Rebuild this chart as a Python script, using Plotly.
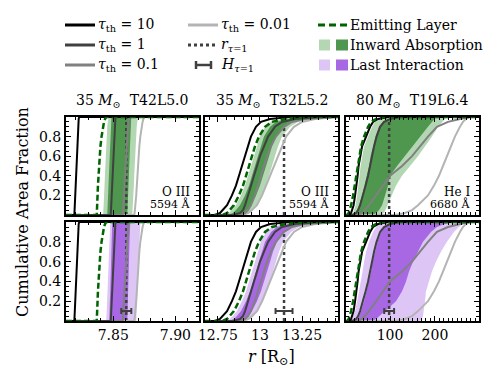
import plotly.graph_objects as go
from plotly.subplots import make_subplots

# cumulative area fraction levels shared by every curve
FRAC = [0.0, 0.02, 0.05, 0.1, 0.2, 0.3, 0.4, 0.5, 0.6, 0.7, 0.8, 0.9, 0.95, 0.98, 1.0]

TITLES = ["35 <i>M</i><sub>⊙</sub>  T42L5.0", "35 <i>M</i><sub>⊙</sub>  T32L5.2", "80 <i>M</i><sub>⊙</sub>  T19L6.4"]
LINES = [("O III", "5594 Å"), ("O III", "5594 Å"), ("He I", "6680 Å")]

# --- 35 Msun T42L5.0 : O III 5594
t42_tau10 = [7.8186, 7.8188, 7.8189, 7.8192, 7.8196, 7.8199, 7.8202, 7.8204, 7.8208, 7.8210, 7.8212, 7.8215, 7.8218, 7.8222, 7.8226]
t42_tau1 = [7.8480, 7.8481, 7.8482, 7.8484, 7.8487, 7.8490, 7.8493, 7.8496, 7.8499, 7.8502, 7.8506, 7.8511, 7.8514, 7.8517, 7.8520]
t42_tau01 = [7.8577, 7.8578, 7.8580, 7.8582, 7.8586, 7.8590, 7.8594, 7.8598, 7.8602, 7.8606, 7.8611, 7.8617, 7.8621, 7.8625, 7.8630]
t42_tau001 = [7.8669, 7.8672, 7.8675, 7.8679, 7.8685, 7.8690, 7.8694, 7.8698, 7.8703, 7.8710, 7.8718, 7.8728, 7.8736, 7.8743, 7.8750]
t42_emit = [7.8367, 7.8368, 7.8370, 7.8371, 7.8374, 7.8377, 7.8381, 7.8385, 7.8389, 7.8397, 7.8406, 7.8417, 7.8426, 7.8434, 7.8444]
t42_abs_outer_lo = [7.8419, 7.8420, 7.8421, 7.8423, 7.8427, 7.8430, 7.8433, 7.8436, 7.8440, 7.8444, 7.8448, 7.8452, 7.8456, 7.8460, 7.8464]
t42_abs_outer_hi = [7.8653, 7.8655, 7.8656, 7.8659, 7.8663, 7.8666, 7.8669, 7.8673, 7.8676, 7.8680, 7.8684, 7.8689, 7.8693, 7.8697, 7.8702]
t42_abs_inner_lo = [7.8452, 7.8453, 7.8454, 7.8456, 7.8459, 7.8462, 7.8465, 7.8468, 7.8471, 7.8474, 7.8477, 7.8480, 7.8482, 7.8484, 7.8486]
t42_abs_inner_hi = [7.8613, 7.8614, 7.8615, 7.8617, 7.8620, 7.8623, 7.8626, 7.8629, 7.8632, 7.8635, 7.8638, 7.8641, 7.8643, 7.8644, 7.8645]
t42_last_outer_lo = [7.8444, 7.8445, 7.8446, 7.8448, 7.8451, 7.8454, 7.8457, 7.8460, 7.8463, 7.8466, 7.8469, 7.8472, 7.8474, 7.8475, 7.8476]
t42_last_outer_hi = [7.8685, 7.8686, 7.8687, 7.8689, 7.8692, 7.8695, 7.8698, 7.8701, 7.8704, 7.8707, 7.8710, 7.8713, 7.8715, 7.8717, 7.8718]
t42_last_inner_lo = [7.8468, 7.8469, 7.8470, 7.8471, 7.8473, 7.8476, 7.8478, 7.8480, 7.8482, 7.8484, 7.8486, 7.8488, 7.8490, 7.8491, 7.8492]
t42_last_inner_hi = [7.8613, 7.8614, 7.8615, 7.8617, 7.8619, 7.8621, 7.8623, 7.8625, 7.8627, 7.8629, 7.8631, 7.8633, 7.8635, 7.8636, 7.8637]

# --- 35 Msun T32L5.2 : O III 5594
t32_tau10 = [12.732, 12.762, 12.780, 12.804, 12.833, 12.857, 12.875, 12.893, 12.911, 12.929, 12.946, 12.976, 13.006, 13.060, 13.179]
t32_tau1 = [12.839, 12.881, 12.899, 12.911, 12.929, 12.946, 12.964, 12.982, 13.000, 13.024, 13.048, 13.089, 13.131, 13.208, 13.357]
t32_tau01 = [12.869, 12.911, 12.929, 12.946, 12.970, 12.988, 13.006, 13.024, 13.042, 13.065, 13.095, 13.143, 13.190, 13.268, 13.417]
t32_tau001 = [12.893, 12.929, 12.952, 12.982, 13.012, 13.036, 13.060, 13.083, 13.107, 13.131, 13.155, 13.202, 13.250, 13.327, 13.458]
t32_emit = [12.774, 12.804, 12.821, 12.845, 12.875, 12.899, 12.917, 12.935, 12.952, 12.970, 12.994, 13.030, 13.071, 13.149, 13.298]
t32_abs_outer_lo = [12.786, 12.815, 12.833, 12.857, 12.887, 12.911, 12.929, 12.946, 12.964, 12.982, 13.000, 13.030, 13.065, 13.131, 13.268]
t32_abs_outer_hi = [12.911, 12.940, 12.958, 12.982, 13.012, 13.036, 13.054, 13.071, 13.089, 13.107, 13.131, 13.179, 13.226, 13.310, 13.446]
t32_abs_inner_lo = [12.810, 12.839, 12.857, 12.881, 12.911, 12.935, 12.952, 12.970, 12.988, 13.006, 13.024, 13.060, 13.095, 13.167, 13.310]
t32_abs_inner_hi = [12.875, 12.905, 12.923, 12.946, 12.976, 13.000, 13.018, 13.036, 13.054, 13.071, 13.095, 13.137, 13.179, 13.256, 13.387]
t32_last_outer_lo = [12.792, 12.821, 12.839, 12.863, 12.893, 12.917, 12.935, 12.952, 12.970, 12.988, 13.006, 13.036, 13.071, 13.137, 13.274]
t32_last_outer_hi = [12.917, 12.946, 12.964, 12.988, 13.018, 13.042, 13.060, 13.077, 13.095, 13.113, 13.137, 13.185, 13.232, 13.316, 13.452]
t32_last_inner_lo = [12.816, 12.845, 12.863, 12.887, 12.917, 12.941, 12.958, 12.976, 12.994, 13.012, 13.030, 13.066, 13.101, 13.173, 13.316]
t32_last_inner_hi = [12.881, 12.911, 12.929, 12.952, 12.982, 13.006, 13.024, 13.042, 13.060, 13.077, 13.101, 13.143, 13.185, 13.262, 13.393]

# --- 80 Msun T19L6.4 : He I 6680
t19_tau10 = [8.9, 13.3, 15.6, 18.9, 22.2, 25.6, 27.8, 30.0, 33.3, 37.8, 46.7, 55.6, 62.2, 73.3, 95.6]
t19_tau1 = [15.6, 24.4, 28.9, 33.3, 40.0, 45.6, 51.1, 55.6, 58.9, 64.4, 70.0, 77.8, 86.7, 100.0, 122.2]
t19_tau01 = [28.9, 37.8, 44.4, 53.3, 68.9, 84.4, 100.0, 126.7, 148.9, 166.7, 184.4, 204.4, 228.9, 255.6, 277.8]
t19_tau001 = [111.1, 133.3, 148.9, 162.2, 184.4, 197.8, 208.9, 217.8, 226.7, 235.6, 244.4, 255.6, 262.2, 268.9, 277.8]
t19_emit = [4.4, 7.8, 10.0, 13.3, 17.8, 21.1, 24.4, 27.8, 31.1, 35.6, 42.2, 51.1, 57.8, 68.9, 88.9]
t19_abs_outer_lo = [13.3, 17.8, 20.0, 23.3, 26.7, 30.0, 32.2, 34.4, 37.8, 42.2, 51.1, 60.0, 66.7, 77.8, 100.0]
t19_abs_outer_hi = [77.8, 86.7, 91.1, 95.6, 104.4, 113.3, 126.7, 144.4, 162.2, 177.8, 193.3, 206.7, 215.6, 222.2, 226.7]
t19_abs_inner_lo = [13.3, 22.2, 26.7, 31.1, 37.8, 43.3, 48.9, 53.3, 56.7, 62.2, 67.8, 75.6, 84.4, 97.8, 120.0]
t19_abs_inner_hi = [60.0, 68.9, 75.6, 82.2, 88.9, 95.6, 100.0, 115.6, 133.3, 148.9, 166.7, 184.4, 193.3, 197.8, 202.2]
t19_last_outer_lo = [11.1, 15.6, 17.8, 22.2, 26.7, 31.1, 35.6, 38.9, 42.2, 46.7, 53.3, 62.2, 68.9, 77.8, 95.6]
t19_last_outer_hi = [166.7, 171.1, 173.3, 175.6, 177.8, 180.0, 186.7, 193.3, 202.2, 213.3, 226.7, 242.2, 253.3, 262.2, 271.1]
t19_last_inner_lo = [20.0, 26.7, 31.1, 35.6, 42.2, 47.8, 53.3, 57.8, 61.1, 66.7, 72.2, 80.0, 86.7, 95.6, 111.1]
t19_last_inner_hi = [60.0, 68.9, 75.6, 88.9, 113.3, 126.7, 135.6, 142.2, 151.1, 162.2, 173.3, 191.1, 204.4, 222.2, 244.4]

# photosphere radius and its scale height, per model
r_tau1 = [7.8605, 13.143, 98.0]
r_tau1_top = [1.0, 0.9, 0.98]
h_tau1 = [0.0081, 0.101, 22.0]
H_BAR_FRAC = 0.1

X_RANGES = [[7.812, 7.919], [12.673, 13.464], [2, 298]]
X_TICKS = [[7.85, 7.90], [12.75, 13, 13.25], [100, 200]]
X_TICKTEXT = [["7.85", "7.90"], ["12.75", "13", "13.25"], ["100", "200"]]
X_MINOR = [0.01, 0.05, 10]

models = [
    dict(tau=[t42_tau10, t42_tau1, t42_tau01, t42_tau001], emit=t42_emit,
         abs=[t42_abs_outer_lo, t42_abs_outer_hi, t42_abs_inner_lo, t42_abs_inner_hi],
         last=[t42_last_outer_lo, t42_last_outer_hi, t42_last_inner_lo, t42_last_inner_hi]),
    dict(tau=[t32_tau10, t32_tau1, t32_tau01, t32_tau001], emit=t32_emit,
         abs=[t32_abs_outer_lo, t32_abs_outer_hi, t32_abs_inner_lo, t32_abs_inner_hi],
         last=[t32_last_outer_lo, t32_last_outer_hi, t32_last_inner_lo, t32_last_inner_hi]),
    dict(tau=[t19_tau10, t19_tau1, t19_tau01, t19_tau001], emit=t19_emit,
         abs=[t19_abs_outer_lo, t19_abs_outer_hi, t19_abs_inner_lo, t19_abs_inner_hi],
         last=[t19_last_outer_lo, t19_last_outer_hi, t19_last_inner_lo, t19_last_inner_hi]),
]

TAU_COLORS = ["#000000", "#404040", "#808080", "#b4b4b4"]
EMIT_COLOR = "#006400"
GREEN_LIGHT, GREEN_DARK = "#b3d7b3", "#4f964f"
PURPLE_LIGHT, PURPLE_DARK = "#ddc6f5", "#a867e3"
FONT = "DejaVu Serif"

fig = make_subplots(rows=2, cols=3)

col_dom = [[0.0, 0.322], [0.3366, 0.6586], [0.678, 1.0]]
row_dom = [[0.5196, 1.0], [0.0, 0.485]]


def band(lo, hi, color, row, col):
    fig.add_trace(go.Scatter(x=lo + hi[::-1], y=FRAC + FRAC[::-1], fill="toself",
                             fillcolor=color, mode="lines", line=dict(width=0),
                             hoverinfo="skip", showlegend=False), row=row, col=col)


for c, m in enumerate(models):
    xr = X_RANGES[c]
    for r in (1, 2):
        bands = m["abs"] if r == 1 else m["last"]
        light, dark = (GREEN_LIGHT, GREEN_DARK) if r == 1 else (PURPLE_LIGHT, PURPLE_DARK)
        band(bands[0], bands[1], light, r, c + 1)
        band(bands[2], bands[3], dark, r, c + 1)

        # r_tau=1 marker
        fig.add_trace(go.Scatter(x=[r_tau1[c], r_tau1[c]], y=[0, r_tau1_top[c]], mode="lines",
                                 line=dict(color="#404040", width=2.5, dash="3px,3px"),
                                 showlegend=False), row=r, col=c + 1)

        for xs, color in reversed(list(zip(m["tau"], TAU_COLORS))):
            fig.add_trace(go.Scatter(x=[xr[0]] + xs + [xr[1]], y=[0] + FRAC + [1], mode="lines",
                                     line=dict(color=color, width=2), showlegend=False),
                          row=r, col=c + 1)
        fig.add_trace(go.Scatter(x=[xr[0]] + m["emit"] + [xr[1]], y=[0] + FRAC + [1], mode="lines",
                                 line=dict(color=EMIT_COLOR, width=2.5, dash="6px,3px"),
                                 showlegend=False), row=r, col=c + 1)
        if r == 2:
            fig.add_trace(go.Scatter(x=[r_tau1[c]], y=[H_BAR_FRAC], mode="markers",
                                     marker=dict(size=1, color="#404040"),
                                     error_x=dict(type="data", array=[h_tau1[c] / 2], color="#404040",
                                                  thickness=2, width=3),
                                     showlegend=False), row=r, col=c + 1)

        fig.update_xaxes(row=r, col=c + 1, range=xr, domain=col_dom[c],
                         tickvals=X_TICKS[c], ticktext=X_TICKTEXT[c],
                         showticklabels=(r == 2),
                         minor=dict(ticks="inside", ticklen=3, tickmode="linear",
                                    tick0=0, dtick=X_MINOR[c], tickcolor="black"))
        fig.update_yaxes(row=r, col=c + 1, range=[0, 1], domain=row_dom[r - 1],
                         tickvals=[0.2, 0.4, 0.6, 0.8], ticktext=["0.2", "0.4", "0.6", "0.8"],
                         showticklabels=(c == 0),
                         minor=dict(ticks="inside", ticklen=3, tickmode="linear",
                                    tick0=0, dtick=0.05, tickcolor="black"))

fig.update_xaxes(showline=True, linecolor="black", linewidth=2, mirror="allticks",
                 ticks="inside", ticklen=5, tickwidth=1.2, tickcolor="black",
                 showgrid=False, zeroline=False, automargin=False,
                 tickfont=dict(size=14, color="black"))
fig.update_yaxes(showline=True, linecolor="black", linewidth=2, mirror="allticks",
                 ticks="inside", ticklen=5, tickwidth=1.2, tickcolor="black",
                 showgrid=False, zeroline=False, automargin=False,
                 tickfont=dict(size=14, color="black"))


# positions are given in window pixels of the reference; the plot area spans
# x 66..479 and y 117..321 of the window
def px_x(px):
    return (px - 66) / 413


def px_y(py):
    return (321 - py) / 204


def note(text, px, py, size, xanchor="center", **kw):
    return dict(text=text, xref="paper", yref="paper", x=px_x(px), y=px_y(py),
                xanchor=xanchor, yanchor="middle", showarrow=False,
                font=dict(size=size), **kw)


annotations = []
# panel titles and line labels
for c in range(3):
    xd = "x domain" if c == 0 else f"x{c + 1} domain"
    yd = "y domain" if c == 0 else f"y{c + 1} domain"
    annotations.append(dict(text=TITLES[c], xref=xd, yref="paper", x=0.5, y=px_y(101),
                            xanchor="center", yanchor="middle", showarrow=False,
                            font=dict(size=14)))
    annotations.append(dict(text=LINES[c][0], xref=xd, yref=yd, x=0.95, y=0.235,
                            xanchor="right", yanchor="middle", showarrow=False,
                            font=dict(size=12)))
    annotations.append(dict(text=LINES[c][1], xref=xd, yref=yd, x=0.95, y=0.115,
                            xanchor="right", yanchor="middle", showarrow=False,
                            font=dict(size=11)))

annotations.append(note("Cumulative Area Fraction", 22, 212, 16, textangle=-90))
annotations.append(note("<i>r</i> [R<sub>⊙</sub>]", 271, 357, 16))

# hand-built legend
shapes = []
LEG_ROWS = [25, 45, 65]


def seg(x0, x1, y0, y1, color, width, dash="solid"):
    return dict(type="line", xref="paper", yref="paper", x0=px_x(x0), x1=px_x(x1),
                y0=px_y(y0), y1=px_y(y1), line=dict(color=color, width=width, dash=dash))


leg_tau = ["<i>τ</i><sub>th</sub> = 10", "<i>τ</i><sub>th</sub> = 1", "<i>τ</i><sub>th</sub> = 0.1"]
for py, color, txt in zip(LEG_ROWS, TAU_COLORS[:3], leg_tau):
    shapes.append(seg(65, 95, py, py, color, 3))
    annotations.append(note(txt, 96, py, 14, xanchor="left"))

shapes.append(seg(188, 218, 25, 25, TAU_COLORS[3], 3))
shapes.append(seg(188, 218, 45, 45, "#404040", 3, "3px,3px"))
shapes.append(seg(196, 211, 65, 65, "#404040", 2.5))
for xx in (196, 211):
    shapes.append(seg(xx, xx, 61, 69, "#404040", 2.5))
for py, txt in zip(LEG_ROWS, ["<i>τ</i><sub>th</sub> = 0.01", "<i>r</i><sub><i>τ</i>=1</sub>",
                              "<i>H</i><sub><i>τ</i>=1</sub>"]):
    annotations.append(note(txt, 219, py, 14, xanchor="left"))

shapes.append(seg(318, 347, 25, 25, EMIT_COLOR, 3, "7px,4px"))
for py, light, dark in [(45, GREEN_LIGHT, GREEN_DARK), (65, PURPLE_LIGHT, PURPLE_DARK)]:
    shapes.append(dict(type="rect", xref="paper", yref="paper", x0=px_x(319), x1=px_x(330),
                       y0=px_y(py + 5.5), y1=px_y(py - 5.5), fillcolor=light, line=dict(width=0)))
    shapes.append(dict(type="rect", xref="paper", yref="paper", x0=px_x(336), x1=px_x(348),
                       y0=px_y(py + 5.5), y1=px_y(py - 5.5), fillcolor=dark, line=dict(width=0)))
for py, txt in zip(LEG_ROWS, ["Emitting Layer", "Inward Absorption", "Last Interaction"]):
    annotations.append(note(txt, 348, py, 14, xanchor="left"))

# the page puts the figure 8 px in from the window's top-left corner,
# so the figure is 8 px smaller and the margins are shifted to match
fig.update_layout(
    width=490, height=376,
    margin=dict(l=58, r=19, t=109, b=63, autoexpand=False),
    paper_bgcolor="white", plot_bgcolor="white",
    font=dict(family=FONT, color="black"),
    showlegend=False,
    annotations=annotations,
    shapes=shapes,
)

fig.write_html("out.html")
